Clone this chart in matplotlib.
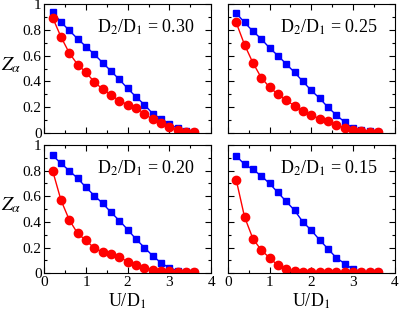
import numpy as np
import matplotlib
matplotlib.use("Agg")
import matplotlib.pyplot as plt
from matplotlib.ticker import MultipleLocator

# U/D1 grid shared by every panel
u = [0.2, 0.4, 0.6, 0.8, 1.0, 1.2, 1.4, 1.6, 1.8, 2.0,
     2.2, 2.4, 2.6, 2.8, 3.0, 3.2, 3.4, 3.6]

ratios = ["0.30", "0.25", "0.20", "0.15"]

# blue squares (wide band)
z_blue_30 = [0.935, 0.86, 0.795, 0.73, 0.67, 0.61, 0.545, 0.48, 0.415, 0.345,
             0.28, 0.22, 0.15, 0.11, 0.07, 0.035, 0.015, 0.008]
z_blue_25 = [0.93, 0.857, 0.79, 0.73, 0.66, 0.60, 0.535, 0.47, 0.40, 0.33,
             0.27, 0.20, 0.14, 0.085, 0.035, 0.02, 0.012, 0.008]
z_blue_20 = [0.92, 0.857, 0.80, 0.74, 0.67, 0.605, 0.545, 0.475, 0.41, 0.34,
             0.265, 0.20, 0.135, 0.08, 0.04, 0.02, 0.01, 0.008]
z_blue_15 = [0.915, 0.85, 0.81, 0.76, 0.70, 0.63, 0.56, 0.49, 0.40, 0.335,
             0.26, 0.19, 0.12, 0.075, 0.03, 0.01, 0.005, 0.005]

# red circles (narrow band)
z_red_30 = [0.895, 0.745, 0.62, 0.53, 0.47, 0.395, 0.34, 0.295, 0.25, 0.22,
            0.195, 0.15, 0.105, 0.08, 0.045, 0.02, 0.01, 0.005]
z_red_25 = [0.857, 0.685, 0.545, 0.43, 0.355, 0.30, 0.255, 0.21, 0.17, 0.14,
            0.11, 0.095, 0.065, 0.04, 0.02, 0.015, 0.01, 0.005]
z_red_20 = [0.80, 0.57, 0.415, 0.31, 0.255, 0.195, 0.165, 0.15, 0.125, 0.09,
            0.06, 0.04, 0.027, 0.02, 0.013, 0.008, 0.006, 0.005]
z_red_15 = [0.73, 0.44, 0.27, 0.18, 0.12, 0.06, 0.03, 0.015, 0.008, 0.006,
            0.005, 0.005, 0.005, 0.005, 0.005, 0.005, 0.005, 0.005]

blues = [z_blue_30, z_blue_25, z_blue_20, z_blue_15]
reds = [z_red_30, z_red_25, z_red_20, z_red_15]

plt.rcParams['font.family'] = ['Liberation Serif', 'DejaVu Serif']
plt.rcParams['mathtext.fontset'] = 'stix'

fig = plt.figure(figsize=(3.99, 3.10), dpi=100)

# axes boxes in figure fractions: left, bottom, width, height
boxes = [
    [0.111, 0.571, 0.418, 0.416],
    [0.571, 0.571, 0.418, 0.416],
    [0.111, 0.119, 0.418, 0.413],
    [0.571, 0.119, 0.418, 0.413],
]

for i in range(4):
    ax = fig.add_axes(boxes[i])
    ax.plot(u, blues[i], color='blue', marker='s', ms=4.8, lw=1.0)
    ax.plot(u, reds[i], color='red', marker='o', ms=6.0, lw=1.0)
    ax.set_xlim(0, 4)
    ax.set_ylim(0, 1)
    ax.xaxis.set_major_locator(MultipleLocator(1))
    ax.xaxis.set_minor_locator(MultipleLocator(0.5))
    ax.yaxis.set_major_locator(MultipleLocator(0.2))
    ax.yaxis.set_minor_locator(MultipleLocator(0.1))
    ax.tick_params(which='both', direction='in', top=True, right=True,
                   labelsize=11, pad=2)
    ax.tick_params(which='major', length=4.5, width=0.8)
    ax.tick_params(which='minor', length=2.5, width=0.8)
    ax.yaxis.set_major_formatter(plt.FuncFormatter(
        lambda v, p: '%g' % round(v, 1)))
    for s in ax.spines.values():
        s.set_linewidth(0.8)
    ax.text(0.9, 0.82, r'D$_2$/D$_1$ = ' + ratios[i], transform=ax.transAxes,
            ha='right', va='center', fontsize=13)
    if i % 2 == 0:
        ax.set_ylabel(r'$Z_\alpha$', fontsize=14, rotation=0)
        ax.yaxis.set_label_coords(-0.2, 0.45)
    else:
        ax.set_yticklabels([])
    if i >= 2:
        ax.set_xlabel(r'U/D$_1$', fontsize=13, labelpad=2)
    else:
        ax.set_xticklabels([])

plt.savefig("out.png", dpi=100)
